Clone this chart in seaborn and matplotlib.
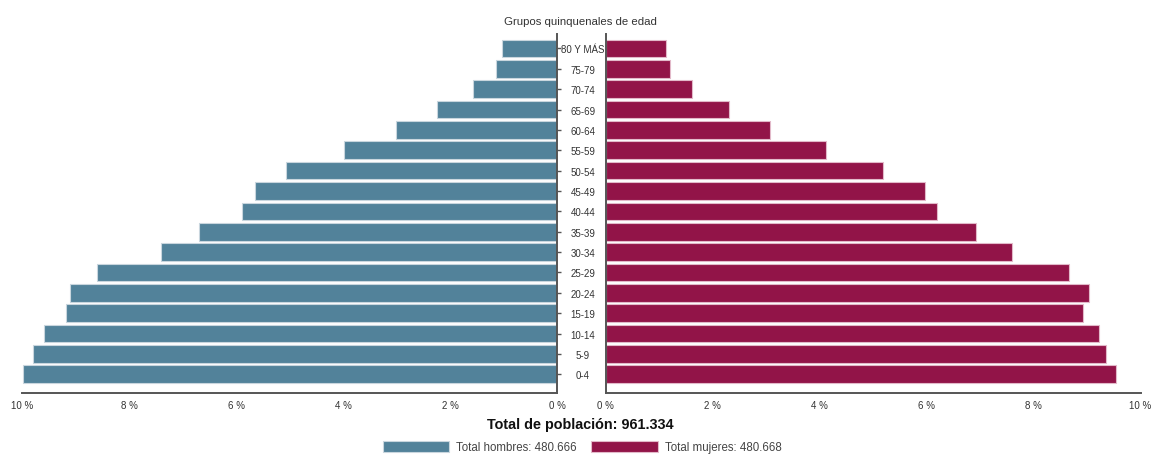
import matplotlib
matplotlib.use("Agg")
import matplotlib.pyplot as plt
import matplotlib.patches as mpatches
import seaborn as sns
import pandas as pd

sns.set_style("white")
plt.rcParams['font.family'] = ['Liberation Sans Narrow', 'Liberation Sans', 'DejaVu Sans']

# Age groups, oldest first (top of the pyramid)
grupos = ["80 Y MÁS", "75-79", "70-74", "65-69", "60-64", "55-59", "50-54", "45-49",
          "40-44", "35-39", "30-34", "25-29", "20-24", "15-19", "10-14", "5-9", "0-4"]
# Share of each age group within its sex (%)
hombres = [1.03, 1.14, 1.57, 2.25, 3.01, 3.99, 5.06, 5.64, 5.89, 6.69, 7.41, 8.60,
           9.10, 9.18, 9.59, 9.79, 9.99]
mujeres = [1.14, 1.20, 1.61, 2.30, 3.07, 4.13, 5.19, 5.98, 6.19, 6.93, 7.59, 8.66,
           9.04, 8.93, 9.22, 9.36, 9.55]
xticks = [0, 2, 4, 6, 8, 10]
xticklabels = ["0 %", "2 %", "4 %", "6 %", "8 %", "10 %"]

total_poblacion = "961.334"
total_hombres = "480.666"
total_mujeres = "480.668"

color_h = "#52829a"
color_m = "#921448"
axis_color = "#555555"
text_color = "#333333"

df = pd.DataFrame({"grupo": grupos, "hombres": hombres, "mujeres": mujeres})

W, H = 1151, 456
fig = plt.figure(figsize=(W / 100, H / 100), dpi=100)

top, bottom = 35, 394
ax_l = fig.add_axes([22.2 / W, 1 - bottom / H, (557.2 - 22.2) / W, (bottom - top) / H])
ax_r = fig.add_axes([605.5 / W, 1 - bottom / H, (1140.5 - 605.5) / W, (bottom - top) / H])

sns.barplot(data=df, y="grupo", x="hombres", order=grupos, orient="h", color=color_h,
            saturation=1, width=0.87, edgecolor="#c9d6de", linewidth=0.8, ax=ax_l)
sns.barplot(data=df, y="grupo", x="mujeres", order=grupos, orient="h", color=color_m,
            saturation=1, width=0.87, edgecolor="#e2b9c9", linewidth=0.8, ax=ax_r)

n = len(grupos)
for ax in (ax_l, ax_r):
    ax.set_ylim(n - 1 + 0.92, -0.71)
    ax.set_xticks(xticks)
    ax.set_xticklabels(xticklabels, fontsize=7, color=text_color)
    ax.set_xlabel("")
    ax.set_ylabel("")
    ax.tick_params(axis="x", length=4, width=1, color=axis_color, pad=1)
    ax.tick_params(axis="y", length=3, width=1, color=axis_color)
    for s in ax.spines.values():
        s.set_color(axis_color)
        s.set_linewidth(1.4)
    ax.spines["top"].set_visible(False)

ax_l.set_xlim(10, 0)
ax_r.set_xlim(0, 10)

# Left panel: spine and age labels on the inner (right) side
ax_l.spines["left"].set_visible(False)
ax_l.yaxis.tick_right()
ax_l.set_yticks(range(n))
ax_l.set_yticklabels(grupos, fontsize=7, color=text_color, ha="center")
ax_l.tick_params(axis="y", pad=15.5)

# Right panel: spine on the inner (left) side, no labels
ax_r.spines["right"].set_visible(False)
ax_r.set_yticks(range(n))
ax_r.set_yticklabels([])

fig.text(580 / W, 1 - 22 / H, "Grupos quinquenales de edad", ha="center", va="center",
         fontsize=8.2, color=text_color)
fig.text(580 / W, 1 - 425 / H, f"Total de población: {total_poblacion}", ha="center",
         va="center", fontsize=10.4, fontweight="bold", color="#111111")

handles = [mpatches.Patch(facecolor=color_h, edgecolor="#c9d6de", linewidth=0.8),
           mpatches.Patch(facecolor=color_m, edgecolor="#e2b9c9", linewidth=0.8)]
labels = [f"Total hombres: {total_hombres}", f"Total mujeres: {total_mujeres}"]
leg = fig.legend(handles, labels, loc="center", bbox_to_anchor=(582 / W, 1 - 448 / H),
                 ncol=2, frameon=False, fontsize=8.3, handlelength=5.8, handleheight=1.05,
                 handletextpad=0.6, columnspacing=1.2, borderaxespad=0, borderpad=0)
for t in leg.get_texts():
    t.set_color("#444444")

fig.savefig("out.png", dpi=100, facecolor="white")
